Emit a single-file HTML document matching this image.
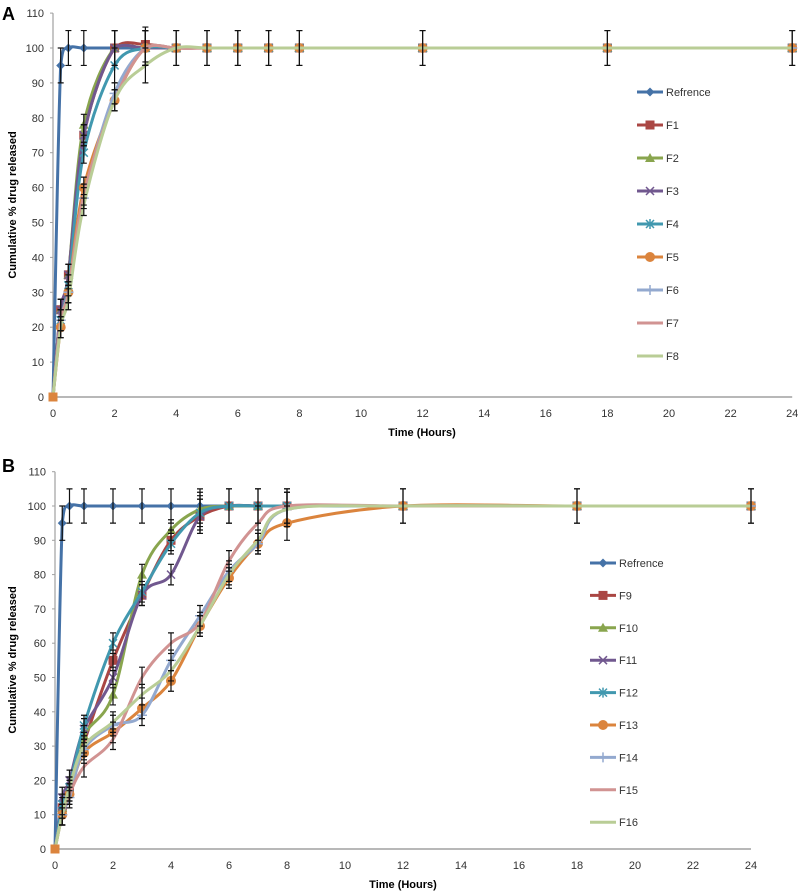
<!DOCTYPE html>
<html><head><meta charset="utf-8">
<style>
html,body{margin:0;padding:0;background:#fff;}
svg{display:block;font-family:"Liberation Sans",sans-serif;}
</style></head>
<body>
<svg id="chart" width="800" height="892" viewBox="0 0 800 892" xmlns="http://www.w3.org/2000/svg">
<text x="2" y="20" font-size="18" font-weight="bold">A</text>
<text x="2" y="472" font-size="18" font-weight="bold">B</text>
<text transform="translate(16,205) rotate(-90)" text-anchor="middle" font-size="11" font-weight="bold">Cumulative % drug released</text>
<text transform="translate(16,660) rotate(-90)" text-anchor="middle" font-size="11" font-weight="bold">Cumulative % drug released</text>
<text x="422" y="436" text-anchor="middle" font-size="11" font-weight="bold">Time (Hours)</text>
<text x="403" y="888" text-anchor="middle" font-size="11" font-weight="bold">Time (Hours)</text>
</svg>
<script>
const times = [0,0.25,0.5,1,2,3,4,5,6,7,8,12,18,24];
const xTicks = [0,2,4,6,8,10,12,14,16,18,20,22,24];
const yTicks = [0,10,20,30,40,50,60,70,80,90,100,110];
const namesA = ["Refrence","F1","F2","F3","F4","F5","F6","F7","F8"];
const namesB = ["Refrence","F9","F10","F11","F12","F13","F14","F15","F16"];
const refA = [0,95,100,100,100,100,100,100,100,100,100,100,100,100];
const f1 = [0,25,35,75,100,101,100,100,100,100,100,100,100,100];
const f2 = [0,25,35,78,100,100,100,100,100,100,100,100,100,100];
const f3 = [0,25,35,75,100,100,100,100,100,100,100,100,100,100];
const f4 = [0,22,32,70,95,100,100,100,100,100,100,100,100,100];
const f5 = [0,20,30,60,85,100,100,100,100,100,100,100,100,100];
const f6 = [0,22,30,57,87,100,100,100,100,100,100,100,100,100];
const f7 = [0,22,30,58,85,100,100,100,100,100,100,100,100,100];
const f8 = [0,20,28,55,85,95,100,100,100,100,100,100,100,100];
const refB = [0,95,100,100,100,100,100,100,100,100,100,100,100,100];
const f9 = [0,12,17,31,55,74,90,97,100,100,100,100,100,100];
const f10 = [0,12,17,33,45,80,93,99,100,100,100,100,100,100];
const f11 = [0,15,20,35,50,74,80,97,100,100,100,100,100,100];
const f12 = [0,13,18,36,60,75,89,98,100,100,100,100,100,100];
const f13 = [0,10,16,28,34,41,49,65,79,89,95,100,100,100];
const f14 = [0,10,15,29,36,39,55,68,81,89,99,100,100,100];
const f15 = [0,10,16,24,32,50,60,66,84,95,100,100,100,100];
const f16 = [0,10,18,30,37,45,52,65,80,90,99,100,100,100];
const seriesA = [refA,f1,f2,f3,f4,f5,f6,f7,f8];
const seriesB = [refB,f9,f10,f11,f12,f13,f14,f15,f16];
const colors = ["#4572a7","#aa4643","#89a54e","#71588f","#4198af","#db843d","#93a9cf","#d19392","#b9cd96"];
const markers = ["diamond","square","triangle","x","star","circle","plus","none","none"];

const NS="http://www.w3.org/2000/svg";
const svg=document.getElementById('chart');
function mk(tag,attrs,parent){const e=document.createElementNS(NS,tag);for(const k in attrs)e.setAttribute(k,attrs[k]);(parent||svg).appendChild(e);return e;}

function smoothPath(pts){
  let d=`M${pts[0][0]},${pts[0][1]}`;
  for(let i=0;i<pts.length-1;i++){
    const p0=pts[i-1]||pts[i],p1=pts[i],p2=pts[i+1],p3=pts[i+2]||p2;
    const t=1/6;
    const lo=Math.min(p1[1],p2[1])-6, hi=Math.max(p1[1],p2[1])+6;
    const cl=v=>Math.max(lo,Math.min(hi,v));
    const c1=[p1[0]+(p2[0]-p0[0])*t,cl(p1[1]+(p2[1]-p0[1])*t)];
    const c2=[p2[0]-(p3[0]-p1[0])*t,cl(p2[1]-(p3[1]-p1[1])*t)];
    d+=` C${c1[0]},${c1[1]} ${c2[0]},${c2[1]} ${p2[0]},${p2[1]}`;
  }
  return d;
}

function marker(g,type,x,y,c){
  if(type==="diamond")mk('polygon',{points:`${x},${y-4.5} ${x+4.5},${y} ${x},${y+4.5} ${x-4.5},${y}`,fill:c},g);
  else if(type==="square")mk('rect',{x:x-4.5,y:y-4.5,width:9,height:9,fill:c},g);
  else if(type==="triangle")mk('polygon',{points:`${x},${y-5} ${x+5},${y+4} ${x-5},${y+4}`,fill:c},g);
  else if(type==="circle")mk('circle',{cx:x,cy:y,r:5,fill:c},g);
  else if(type==="x"){mk('path',{d:`M${x-4},${y-4}L${x+4},${y+4}M${x-4},${y+4}L${x+4},${y-4}`,stroke:c,'stroke-width':1.5},g);}
  else if(type==="star"){mk('path',{d:`M${x-4},${y-4}L${x+4},${y+4}M${x-4},${y+4}L${x+4},${y-4}M${x},${y-5}L${x},${y+5}`,stroke:c,'stroke-width':1.5},g);}
  else if(type==="plus"){mk('path',{d:`M${x-5},${y}L${x+5},${y}M${x},${y-5}L${x},${y+5}`,stroke:c,'stroke-width':1.5},g);}
}

function panel(cfg){
  const {x0,xPer,y0,yPer,series,names,legX,legY,legGap,tag}=cfg;
  const X=t=>x0+t*xPer, Y=v=>y0-v*yPer;
  const g=mk('g',{});
  
  
  const ya=mk('line',{x1:x0,y1:Y(110),x2:x0,y2:y0,stroke:'#a0a0a0','stroke-width':1.2},g);
  
  
  const xa=mk('line',{x1:x0,y1:y0,x2:X(24),y2:y0,stroke:'#a0a0a0','stroke-width':1.5},g);
  
  
  yTicks.forEach(v=>{
    const t=mk('text',{x:x0-9,y:Y(v)+4,'text-anchor':'end','font-size':11,fill:'#333'},g);
    t.textContent=v;
    
    
    mk('line',{x1:x0-3,y1:Y(v),x2:x0,y2:Y(v),stroke:'#a0a0a0'},g);
  });
  xTicks.forEach(v=>{
    const t=mk('text',{x:X(v),y:y0+20,'text-anchor':'middle','font-size':11,fill:'#333'},g);
    t.textContent=v;
    
    
  });
  series.forEach((s,i)=>{
    const sg=mk('g',{},g);
    
    
    const pts=s.map((v,j)=>[X(times[j]),Y(v)]);
    mk('path',{d:smoothPath(pts),fill:'none',stroke:colors[i],'stroke-width':3},sg);
    pts.forEach((p,j)=>{ if(j>0) marker(sg,markers[i],p[0],p[1],colors[i]); else mk('rect',{x:p[0]-4.5,y:p[1]-4.5,width:9,height:9,fill:'#db843d'},sg);});
  });
  series.forEach((s,i)=>{
    s.forEach((v,j)=>{
      if(j===0)return;
      const e = v>=95 ? 5 : 3;
      if(i!==0 && v>=100 && j>5 && i!==1)return;
      const x=X(times[j]);
      const eg=mk('path',{d:`M${x},${Y(v+e)}L${x},${Y(v-e)}M${x-3},${Y(v+e)}L${x+3},${Y(v+e)}M${x-3},${Y(v-e)}L${x+3},${Y(v-e)}`,stroke:'#111','stroke-width':1.2,fill:'none'},g);
      
      
    });
  });
  names.forEach((n,i)=>{
    const lg=mk('g',{},g);
    
    
    const y=legY+i*legGap;
    mk('line',{x1:legX,y1:y,x2:legX+26,y2:y,stroke:colors[i],'stroke-width':3},lg);
    marker(lg,markers[i],legX+13,y,colors[i]);
    const t=mk('text',{x:legX+29,y:y+4,'font-size':11,fill:'#333'},lg);
    t.textContent=n;
  });
}
panel({x0:53,xPer:30.8,y0:397,yPer:3.49,series:seriesA,names:namesA,legX:637,legY:92,legGap:33,tag:'a'});
panel({x0:55,xPer:29,y0:849,yPer:3.43,series:seriesB,names:namesB,legX:590,legY:563,legGap:32.4,tag:'b'});
</script>
</body></html>
